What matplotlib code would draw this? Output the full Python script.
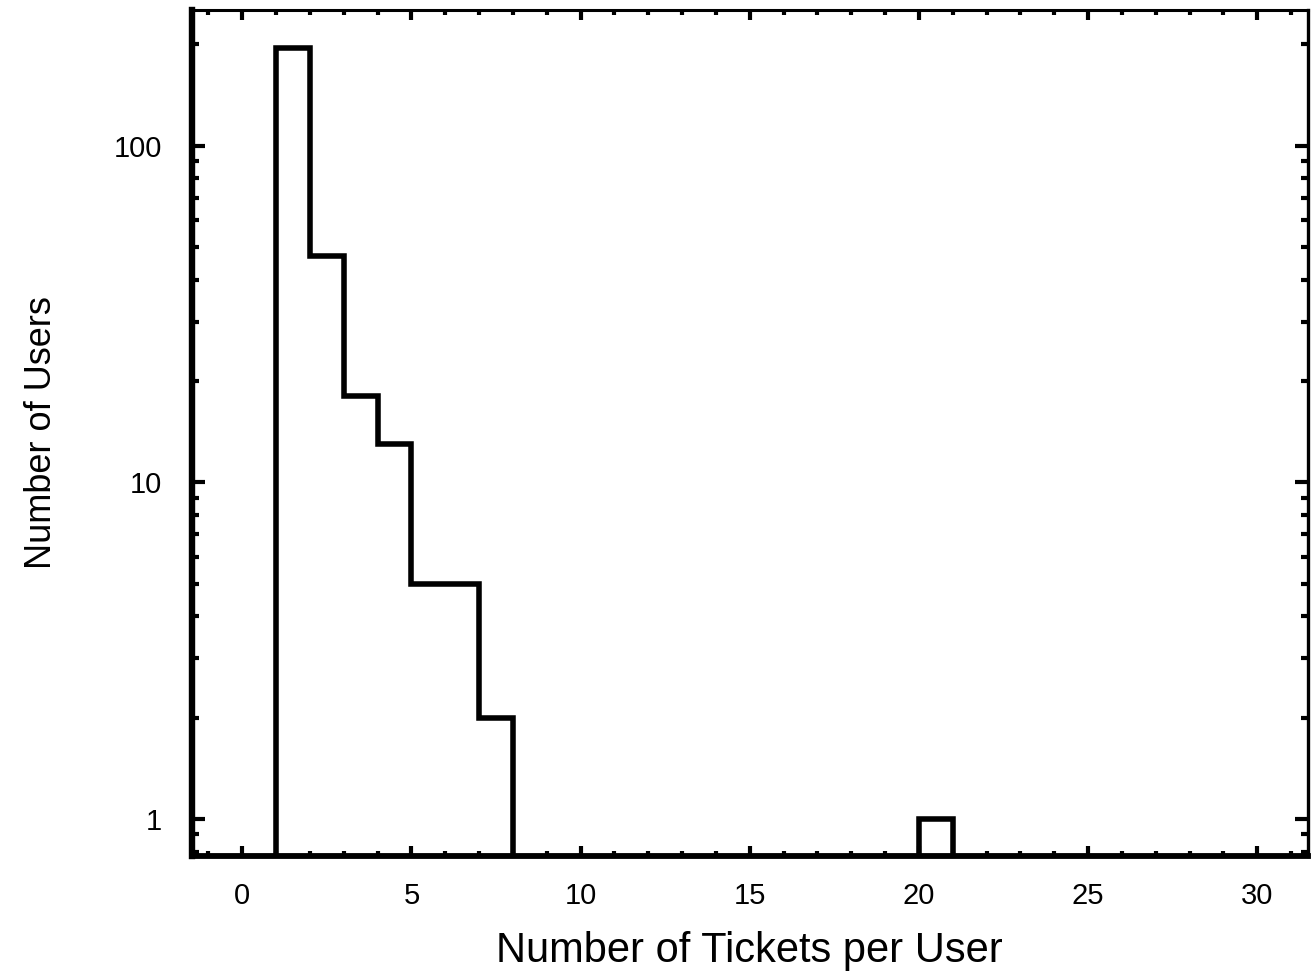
import numpy as np
import matplotlib
matplotlib.use("Agg")
import matplotlib.pyplot as plt
from matplotlib.ticker import FixedLocator, NullFormatter, LogLocator

plt.rcParams['font.family'] = ['Liberation Sans', 'DejaVu Sans']

# Histogram of tickets per user (one-ticket-wide bins)
bin_edges = list(range(0, 32))
user_counts = [0, 195, 47, 18, 13, 5, 5, 2, 0, 0,
               0, 0, 0, 0, 0, 0, 0, 0, 0, 0,
               1, 0, 0, 0, 0, 0, 0, 0, 0, 0,
               0]
x_major_ticks = [0, 5, 10, 15, 20, 25, 30]
x_tick_labels = ['0', '5', '10', '15', '20', '25', '30']
y_major_ticks = [1, 10, 100]
y_tick_labels = ['1', '10', '100']

fig = plt.figure(figsize=(13.16, 9.73), dpi=100)
ax = fig.add_axes([191.5 / 1316, 1 - 856 / 973, (1308 - 191.5) / 1316, (856 - 9.7) / 973])

ax.stairs(user_counts, bin_edges, baseline=None, color='black', linewidth=4.0)

ax.set_yscale('log')
ax.set_xlim(-1.5, 31.5)
ax.set_ylim(0.776, 253.6)

ax.xaxis.set_major_locator(FixedLocator(x_major_ticks))
ax.set_xticklabels(x_tick_labels)
ax.xaxis.set_minor_locator(FixedLocator(list(range(-1, 32))))
ax.yaxis.set_major_locator(FixedLocator(y_major_ticks))
ax.set_yticklabels(y_tick_labels)
ax.yaxis.set_minor_locator(LogLocator(base=10, subs=np.arange(2, 10)))
ax.yaxis.set_minor_formatter(NullFormatter())

ax.tick_params(axis='both', which='both', direction='in', top=True, right=True,
               width=3.0, color='black')
ax.tick_params(axis='x', which='major', length=7.5, pad=19, labelsize=21)
ax.tick_params(axis='x', which='minor', length=3.5)
ax.tick_params(axis='y', which='major', length=9.5, pad=21, labelsize=21)
ax.tick_params(axis='y', which='minor', length=5)

ax.spines['left'].set_linewidth(4.6)
ax.spines['bottom'].set_linewidth(4.2)
ax.spines['top'].set_linewidth(2.2)
ax.spines['right'].set_linewidth(2.4)

ax.set_xlabel('Number of Tickets per User', fontsize=30)
ax.set_ylabel('Number of Users', fontsize=26)
ax.xaxis.set_label_coords(0.5, -0.089)
ax.yaxis.set_label_coords(-0.119, 0.5)

fig.savefig('out.png', dpi=100)
